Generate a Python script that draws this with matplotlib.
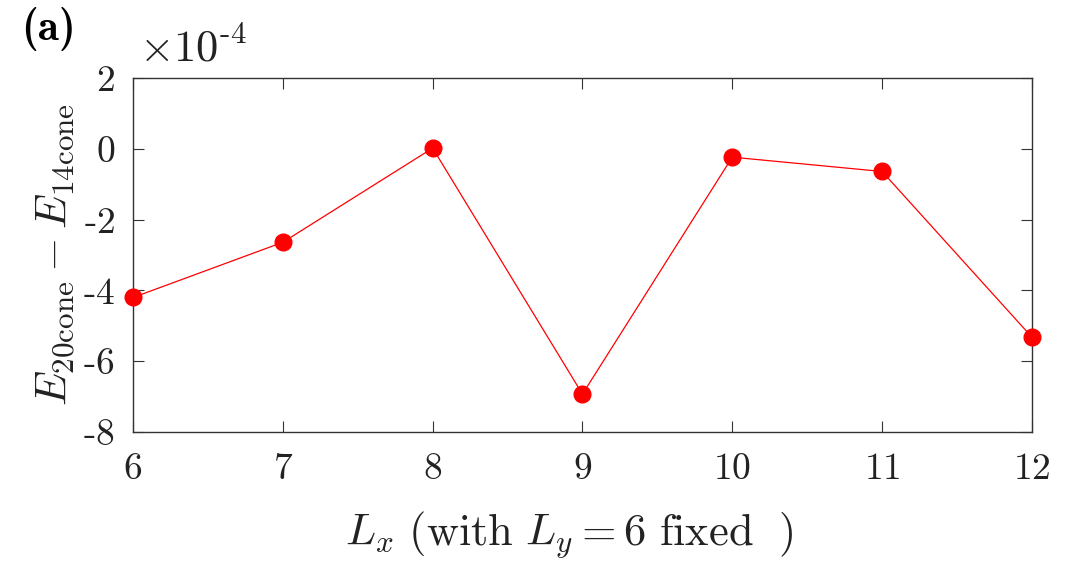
import matplotlib
matplotlib.use("Agg")
import matplotlib.pyplot as plt
import numpy as np

Lx = [6, 7, 8, 9, 10, 11, 12]
dE = [-4.20e-4, -2.64e-4, 0.02e-4, -6.93e-4, -0.236e-4, -0.64e-4, -5.32e-4]
yticks = [-8e-4, -6e-4, -4e-4, -2e-4, 0, 2e-4]
ytick_labels = ["-8", "-6", "-4", "-2", "0", "2"]

plt.rcParams['font.family'] = ['Liberation Serif', 'DejaVu Serif']
plt.rcParams['mathtext.fontset'] = 'cm'

fig = plt.figure(figsize=(10.66, 5.78), dpi=100)
ax = fig.add_axes([0.1248, 0.2526, 0.968 - 0.1248, 0.865 - 0.2526])

ax.plot(Lx, dE, '-', color='red', lw=0.9, marker='o', markersize=12, markeredgecolor='red',
        markerfacecolor='red', clip_on=False, zorder=3)

ax.set_xlim(6, 12)
ax.set_ylim(-8e-4, 2e-4)
ax.set_xticks(Lx)
ax.set_xticklabels([r'$\text{%s}$' % v for v in Lx])
ax.set_yticks(yticks)
ax.set_yticklabels([r'$\text{%s}$' % s for s in ytick_labels])
ax.tick_params(direction='in', top=True, right=True, length=8, width=0.8,
               labelsize=27, color='#333333', labelcolor='#222222')
ax.tick_params(axis='x', pad=15)
ax.tick_params(axis='y', pad=13)
for s in ax.spines.values():
    s.set_linewidth(1.0)
    s.set_color('#333333')

ax.set_xlabel(r'$L_x\ \mathrm{(with}\ L_y = 6\ \mathrm{fixed}\ \ \mathrm{)}$', fontsize=32, labelpad=16, color='#222222')
ax.xaxis.label.set_x(0.485)
ax.set_ylabel(r'$E_{20\mathrm{cone}} - E_{14\mathrm{cone}}$', fontsize=32, labelpad=4, color='#222222')

fig.text(0.130, 0.878, r'$\times 10^{\text{-4}}$', fontsize=32, color='#222222', ha='left', va='bottom')
fig.text(0.02, 0.912, '(a)', family=['cmb10', 'Liberation Serif'], fontsize=31, ha='left', va='bottom', color='black')

fig.savefig('out.png', dpi=100)
